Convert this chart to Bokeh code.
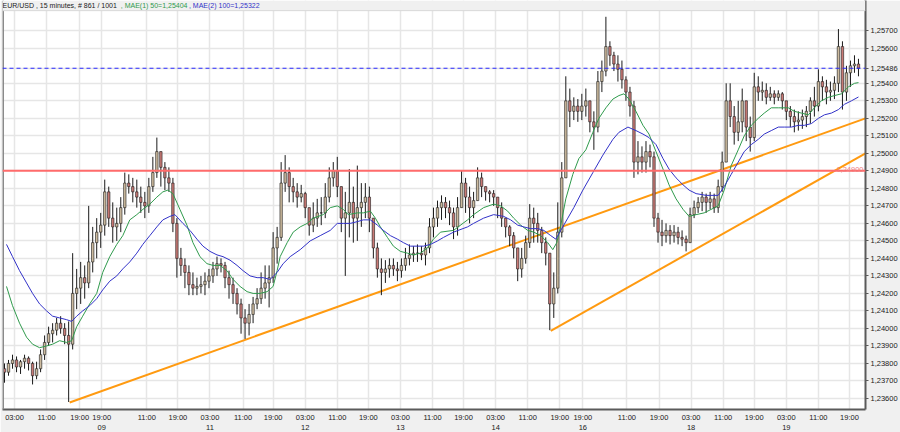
from bokeh.plotting import figure
from bokeh.models import (FixedTicker, CustomJSTickFormatter, Span, Label,
                          ColumnDataSource, Range1d, BoxAnnotation, LinearAxis)
from bokeh.embed import file_html
from bokeh.resources import INLINE

# ---------------- data ----------------
header_parts = ["EUR/USD , 15 minutes, # 861 / 1001",
                ", MAE(1) 50=1,25404",
                ", MAE(2) 100=1,25322"]

first_open = 1.2377
closes = [
    1.2375, 1.2380, 1.2382, 1.2378, 1.2381, 1.2383, 1.2380, 1.2373, 1.2377, 1.2385, 1.2392, 1.2397, 1.2399, 1.2403, 1.2400, 1.2396,
    1.2391, 1.2420, 1.2423, 1.2429, 1.2426, 1.2438, 1.2449, 1.2455, 1.2459, 1.2478, 1.2463, 1.2458, 1.2460, 1.2469, 1.2483,
    1.2481, 1.2478, 1.2475, 1.2472, 1.2470, 1.2481, 1.2489, 1.2501, 1.2492, 1.2486, 1.2483,
    1.2460, 1.2440, 1.2436, 1.2432, 1.2425, 1.2423, 1.2424, 1.2425, 1.2427, 1.2430, 1.2434, 1.2437, 1.2436,
    1.2429, 1.2425, 1.2420, 1.2414, 1.2406, 1.2403, 1.2408, 1.2414, 1.2417, 1.2423, 1.2426, 1.2429,
    1.2446, 1.2452, 1.2483, 1.2489, 1.2481, 1.2478, 1.2475, 1.2477, 1.2469, 1.2459, 1.2463, 1.2466, 1.2466,
    1.2475, 1.2486, 1.2490, 1.2481, 1.2463, 1.2466, 1.2472, 1.2463, 1.2469, 1.2472, 1.2475, 1.2463,
    1.2446, 1.2434, 1.2432, 1.2434, 1.2436, 1.2434, 1.2433, 1.2436, 1.2440, 1.2442, 1.2443, 1.2443, 1.2442, 1.2446,
    1.2458, 1.2463, 1.2469, 1.2472, 1.2469, 1.2466, 1.2458, 1.2469, 1.2483, 1.2475, 1.2469, 1.2473,
    1.2486, 1.2481, 1.2478, 1.2477, 1.2475, 1.2469, 1.2463, 1.2458, 1.2453, 1.2446, 1.2434, 1.2440, 1.2449,
    1.2463, 1.2460, 1.2456, 1.2449, 1.2443, 1.2414, 1.2423, 1.2455, 1.2486,
    1.2530, 1.2524, 1.2527, 1.2524, 1.2527, 1.2530, 1.2518, 1.2515, 1.2541, 1.2547,
    1.2561, 1.2556, 1.2551, 1.2548, 1.2542, 1.2535, 1.2527, 1.2495, 1.2498, 1.2495, 1.2501, 1.2498,
    1.2463, 1.2455, 1.2453, 1.2456, 1.2453, 1.2455, 1.2452, 1.2451, 1.2449,
    1.2465, 1.2469, 1.2472, 1.2475, 1.2472, 1.2474, 1.2469, 1.2481, 1.2495,
    1.2530, 1.2521, 1.2512, 1.2518, 1.2530, 1.2515, 1.2509, 1.2538,
    1.2535, 1.2536, 1.2532, 1.2534, 1.2532, 1.2534, 1.2530, 1.2524, 1.2521, 1.2518, 1.2519, 1.2521, 1.2524,
    1.2530, 1.2527, 1.2541, 1.2538, 1.2535, 1.2536, 1.2540, 1.2561, 1.2535, 1.2546, 1.2550, 1.2551, 1.25486]

highs = [
    1.2380, 1.2382, 1.2385, 1.2384, 1.2382, 1.2385, 1.2384, 1.2381, 1.2381, 1.2388, 1.2396, 1.2401, 1.2403, 1.2406, 1.2407, 1.2403,
    1.2404, 1.2443, 1.2434, 1.2438, 1.2436, 1.2470, 1.2458, 1.2463, 1.2466, 1.2485, 1.2481, 1.2472, 1.2469, 1.2475, 1.2489,
    1.2488, 1.2486, 1.2485, 1.2481, 1.2478, 1.2486, 1.2498, 1.2509, 1.2501, 1.2495, 1.2492,
    1.2486, 1.2463, 1.2446, 1.2440, 1.2436, 1.2432, 1.2429, 1.2430, 1.2432, 1.2434, 1.2438, 1.2441, 1.2440,
    1.2438, 1.2433, 1.2429, 1.2423, 1.2417, 1.2411, 1.2414, 1.2418, 1.2423, 1.2432, 1.2436, 1.2436,
    1.2455, 1.2458, 1.2495, 1.2499, 1.2492, 1.2486, 1.2483, 1.2482, 1.2478, 1.2469, 1.2472, 1.2474, 1.2475,
    1.2483, 1.2492, 1.2495, 1.2498, 1.2481, 1.2478, 1.2491, 1.2481, 1.2493, 1.2483, 1.2483, 1.2481,
    1.2458, 1.2449, 1.2440, 1.2439, 1.2440, 1.2440, 1.2438, 1.2440, 1.2446, 1.2448, 1.2447, 1.2448, 1.2447, 1.2449,
    1.2463, 1.2469, 1.2473, 1.2476, 1.2475, 1.2473, 1.2469, 1.2475, 1.2490, 1.2486, 1.2481, 1.2478,
    1.2492, 1.2489, 1.2481, 1.2479, 1.2479, 1.2475, 1.2472, 1.2463, 1.2459, 1.2455, 1.2443, 1.2446, 1.2453,
    1.2471, 1.2469, 1.2466, 1.2458, 1.2452, 1.2443, 1.2432, 1.2472, 1.2495,
    1.2544, 1.2537, 1.2532, 1.2531, 1.2534, 1.2537, 1.2530, 1.2524, 1.2547, 1.2553,
    1.2578, 1.2564, 1.2558, 1.2556, 1.2553, 1.2544, 1.2538, 1.2530, 1.2507, 1.2504, 1.2507, 1.2505,
    1.2501, 1.2466, 1.2462, 1.2460, 1.2459, 1.2459, 1.2458, 1.2456, 1.2453,
    1.2469, 1.2473, 1.2475, 1.2478, 1.2477, 1.2478, 1.2477, 1.2485, 1.2501,
    1.2540, 1.2540, 1.2527, 1.2530, 1.2537, 1.2530, 1.2521, 1.2546,
    1.2544, 1.2541, 1.2540, 1.2538, 1.2536, 1.2536, 1.2535, 1.2530, 1.2527, 1.2525, 1.2524, 1.2525, 1.2527,
    1.2532, 1.2538, 1.2548, 1.2544, 1.2542, 1.2541, 1.2544, 1.2571, 1.2564, 1.2550, 1.2553, 1.2556, 1.2554]

lows = [
    1.2369, 1.2373, 1.2377, 1.2375, 1.2374, 1.2377, 1.2376, 1.2368, 1.2371, 1.2375, 1.2382, 1.2390, 1.2392, 1.2396, 1.2397, 1.2391,
    1.2358, 1.2388, 1.2411, 1.2414, 1.2417, 1.2423, 1.2432, 1.2440, 1.2446, 1.2453, 1.2458, 1.2449, 1.2450, 1.2455, 1.2465,
    1.2477, 1.2472, 1.2469, 1.2466, 1.2463, 1.2466, 1.2478, 1.2486, 1.2481, 1.2479, 1.2478,
    1.2455, 1.2429, 1.2430, 1.2423, 1.2419, 1.2419, 1.2419, 1.2420, 1.2419, 1.2423, 1.2426, 1.2430, 1.2432,
    1.2423, 1.2417, 1.2414, 1.2408, 1.2397, 1.2394, 1.2396, 1.2403, 1.2411, 1.2414, 1.2417, 1.2412,
    1.2426, 1.2437, 1.2450, 1.2478, 1.2472, 1.2472, 1.2469, 1.2472, 1.2463, 1.2453, 1.2455, 1.2458, 1.2459,
    1.2463, 1.2472, 1.2481, 1.2475, 1.2455, 1.2430, 1.2452, 1.2449, 1.2450, 1.2458, 1.2463, 1.2455,
    1.2440, 1.2429, 1.2419, 1.2426, 1.2429, 1.2430, 1.2427, 1.2429, 1.2433, 1.2436, 1.2438, 1.2438, 1.2439, 1.2436,
    1.2443, 1.2452, 1.2458, 1.2462, 1.2463, 1.2459, 1.2451, 1.2453, 1.2472, 1.2466, 1.2460, 1.2463,
    1.2475, 1.2475, 1.2473, 1.2472, 1.2470, 1.2463, 1.2458, 1.2452, 1.2447, 1.2440, 1.2427, 1.2429, 1.2437,
    1.2446, 1.2449, 1.2449, 1.2443, 1.2436, 1.2399, 1.2406, 1.2420, 1.2452,
    1.2486, 1.2515, 1.2519, 1.2518, 1.2519, 1.2521, 1.2512, 1.2502, 1.2512, 1.2535,
    1.2544, 1.2550, 1.2547, 1.2541, 1.2537, 1.2530, 1.2521, 1.2486, 1.2488, 1.2489, 1.2489, 1.2492,
    1.2458, 1.2449, 1.2447, 1.2449, 1.2448, 1.2449, 1.2448, 1.2447, 1.2444,
    1.2449, 1.2463, 1.2466, 1.2467, 1.2466, 1.2468, 1.2466, 1.2466, 1.2478,
    1.2495, 1.2515, 1.2505, 1.2507, 1.2512, 1.2507, 1.2501, 1.2507,
    1.2530, 1.2530, 1.2528, 1.2530, 1.2528, 1.2530, 1.2525, 1.2519, 1.2515, 1.2512, 1.2513, 1.2514, 1.2515,
    1.2517, 1.2521, 1.2524, 1.2530, 1.2528, 1.2530, 1.2531, 1.2535, 1.2525, 1.2530, 1.2538, 1.2546, 1.2544]

# moving averages (bar index, value)
mae50_x = [4, 10, 17, 24, 30, 37, 44, 50, 57, 64, 69, 74, 80, 87, 94, 100, 107, 114, 120, 127,
           134, 140, 147, 154, 160, 165, 170, 177, 184, 190, 197, 204, 210, 217, 224, 230, 237, 244, 250, 257,
           264, 270, 274, 277, 284, 290, 297, 304, 310, 320, 327, 334, 340, 345, 354, 360, 367, 372, 377, 384,
           390, 397, 404, 410, 417, 424, 430, 437, 450, 464, 470, 480, 490, 497, 504, 510, 517, 524, 530, 537,
           544, 549, 553, 557, 562, 569, 575, 582, 589, 595, 602, 609, 615, 620, 625, 632, 639, 645, 652, 659,
           665, 672, 679, 685, 692, 700, 714, 720, 727, 734, 740, 747, 754, 760, 767, 774, 784, 790, 797, 804,
           810, 817, 824, 830, 837, 844, 850, 854]
mae50 = [1.2424, 1.2413, 1.2403, 1.2395, 1.2391, 1.2389, 1.2390, 1.2391, 1.2393, 1.2392,
         1.2393, 1.2401, 1.2407, 1.2414, 1.2420, 1.2432, 1.2441, 1.2448, 1.2453, 1.2462,
         1.2465, 1.2468, 1.2471, 1.2475, 1.2478, 1.2479, 1.2477, 1.2468, 1.2459, 1.2449,
         1.2441, 1.2437, 1.2436, 1.2436, 1.2433, 1.2428, 1.2424, 1.2421, 1.2420, 1.2420,
         1.2421, 1.2424, 1.2433, 1.2441, 1.2449, 1.2455, 1.2458, 1.2460, 1.2463, 1.2465,
         1.2469, 1.2470, 1.2468, 1.2465, 1.2466, 1.2466, 1.2467, 1.2463, 1.2458, 1.2452,
         1.2447, 1.2444, 1.2443, 1.2442, 1.2443, 1.2446, 1.2451, 1.2455, 1.2456, 1.2462,
         1.2465, 1.2469, 1.2471, 1.2470, 1.2467, 1.2463, 1.2459, 1.2456, 1.2455, 1.2453,
         1.2449, 1.2445, 1.2449, 1.2459, 1.2474, 1.2488, 1.2497, 1.2502, 1.2512, 1.2520,
         1.2526, 1.2531, 1.2533, 1.2534, 1.2531, 1.2524, 1.2516, 1.2511, 1.2501, 1.2491,
         1.2482, 1.2474, 1.2468, 1.2464, 1.2465, 1.2466, 1.2470, 1.2479, 1.2493, 1.2502,
         1.2510, 1.2516, 1.2520, 1.2523, 1.2526, 1.2526, 1.2526, 1.2524, 1.2523, 1.2522,
         1.2526, 1.2530, 1.2532, 1.2533, 1.2534, 1.2538, 1.2540, 1.25404]

mae100_x = [4, 10, 17, 24, 30, 37, 44, 50, 57, 64, 69, 74, 80, 87, 94, 100, 107, 114, 120, 127,
            134, 140, 147, 154, 160, 167, 172, 180, 187, 194, 200, 207, 214, 220, 227, 234, 240, 247, 254, 260,
            267, 274, 280, 287, 297, 307, 317, 327, 334, 340, 347, 354, 360, 367, 374, 380, 387, 394, 400, 407,
            414, 420, 427, 434, 440, 450, 464, 470, 480, 490, 500, 507, 514, 520, 527, 534, 540, 547, 552, 557,
            564, 570, 579, 589, 599, 609, 615, 624, 632, 639, 645, 652, 659, 665, 672, 679, 685, 692, 702, 714,
            720, 727, 734, 740, 747, 754, 760, 767, 774, 780, 787, 794, 800, 807, 814, 820, 827, 834, 840, 847,
            854]
mae100 = [1.2448, 1.2441, 1.2433, 1.2426, 1.2420, 1.2414, 1.2410, 1.2407, 1.2406, 1.2405,
          1.2404, 1.2407, 1.2410, 1.2413, 1.2417, 1.2422, 1.2427, 1.2430, 1.2434, 1.2438,
          1.2443, 1.2448, 1.2453, 1.2458, 1.2462, 1.2464, 1.2465, 1.2460, 1.2456, 1.2451,
          1.2447, 1.2444, 1.2442, 1.2441, 1.2439, 1.2436, 1.2433, 1.2430, 1.2429, 1.2429,
          1.2428, 1.2432, 1.2437, 1.2441, 1.2445, 1.2450, 1.2453, 1.2456, 1.2460, 1.2460,
          1.2460, 1.2461, 1.2462, 1.2462, 1.2459, 1.2456, 1.2453, 1.2451, 1.2449, 1.2447,
          1.2447, 1.2447, 1.2448, 1.2450, 1.2452, 1.2455, 1.2458, 1.2460, 1.2463, 1.2465,
          1.2464, 1.2462, 1.2459, 1.2458, 1.2457, 1.2457, 1.2456, 1.2453, 1.2451, 1.2456,
          1.2463, 1.2469, 1.2479, 1.2489, 1.2499, 1.2508, 1.2512, 1.2515, 1.2513, 1.2511,
          1.2509, 1.2505, 1.2497, 1.2491, 1.2486, 1.2482, 1.2479, 1.2477, 1.2476, 1.2476,
          1.2481, 1.2488, 1.2495, 1.2501, 1.2505, 1.2508, 1.2511, 1.2513, 1.2515, 1.2515,
          1.2515, 1.2516, 1.2516, 1.2517, 1.2520, 1.2522, 1.2523, 1.2525, 1.2528, 1.2530,
          1.25322]

# trend lines: (start bar, start price, end bar, end price)
trend1 = (67, 1.23577, 861, 1.2520)
trend2 = (547, 1.23986, 861, 1.2500)

level_red = 1.2490
level_last = 1.25486

time_tick_pos = [12, 44, 77, 99, 144, 175, 207, 240, 270, 302, 334, 365, 397, 429,
                 460, 492, 524, 556, 579, 623, 655, 687, 719, 750, 782, 814, 845]
time_tick_labels = ["03:00", "11:00", "19:00", "19:00", "11:00", "19:00", "03:00",
                    "11:00", "19:00", "03:00", "11:00", "19:00", "03:00", "11:00",
                    "19:00", "03:00", "11:00", "19:00", "19:00", "11:00", "19:00",
                    "03:00", "11:00", "19:00", "03:00", "11:00", "19:00"]
day_tick_pos = [99, 207, 302, 397, 492, 579, 687, 782]
day_tick_labels = ["09", "11", "12", "13", "14", "16", "18", "19"]
y_ticks = [1.236, 1.237, 1.238, 1.239, 1.240, 1.241, 1.242, 1.243, 1.244, 1.245, 1.246,
           1.247, 1.248, 1.249, 1.250, 1.251, 1.252, 1.253, 1.254, 1.25486, 1.256, 1.257]

# visible price window of the chart area, and the header strip above it
price_lo, price_hi = 1.23537, 1.25815
header_band = 0.00058

# ---------------- derived candle table ----------------
n = len(closes)
bar_x = [2 + 4 * i for i in range(n)]
opens = [first_open] + closes[:-1]
top = [max(o, c) for o, c in zip(opens, closes)]
bot = [min(o, c) for o, c in zip(opens, closes)]
hi = [max(h, t) for h, t in zip(highs, top)]
lo = [min(l, b) for l, b in zip(lows, bot)]
colors = ["#cdbb9f" if c >= o else "#c97a76" for o, c in zip(opens, closes)]
src = ColumnDataSource(dict(x=bar_x, top=top, bot=bot, hi=hi, lo=lo, color=colors))

FONT = "Liberation Sans"
BG = "#f0f0f0"

p = figure(width=900, height=432, output_backend="svg", toolbar_location=None,
           x_range=Range1d(0, 861), y_range=Range1d(price_lo, price_hi + header_band),
           y_axis_location="right", min_border_left=2, min_border_right=0,
           min_border_top=0, min_border_bottom=0,
           background_fill_color="white", border_fill_color=BG,
           outline_line_color=None)

lookup = "const i = pos.indexOf(tick); return i >= 0 ? labs[i] : '';"
time_axis = p.xaxis[0]
time_axis.ticker = FixedTicker(ticks=time_tick_pos)
time_axis.formatter = CustomJSTickFormatter(args=dict(pos=time_tick_pos, labs=time_tick_labels),
                                            code=lookup)
day_axis = LinearAxis(ticker=FixedTicker(ticks=day_tick_pos),
                      formatter=CustomJSTickFormatter(args=dict(pos=day_tick_pos, labs=day_tick_labels),
                                                      code=lookup))
p.add_layout(day_axis, "below")

price_axis = p.yaxis[0]
price_axis.ticker = FixedTicker(ticks=y_ticks)
price_axis.formatter = CustomJSTickFormatter(code="return tick.toFixed(5).replace('.', ',');")

for ax in (time_axis, day_axis, price_axis):
    ax.axis_line_color = "#5a5a5a"
    ax.axis_line_width = 2
    ax.minor_tick_line_color = None
    ax.major_label_text_font = FONT
    ax.major_label_text_font_size = "7.5px"
    ax.major_label_text_color = "#202020"
time_axis.major_tick_line_color = None
time_axis.major_tick_out = 0
time_axis.major_label_standoff = 3
day_axis.axis_line_color = None
day_axis.major_tick_line_color = None
day_axis.major_tick_out = 0
day_axis.major_label_standoff = 0
price_axis.major_tick_out = 3
price_axis.major_tick_in = 0
price_axis.major_tick_line_color = "#5a5a5a"
price_axis.major_label_standoff = 2

p.xgrid.grid_line_color = "#e6e6e6"
p.xgrid.grid_line_width = 1.5
p.ygrid.grid_line_color = "#e6e6e6"
p.ygrid.grid_line_width = 1.5

# left border of the chart area
p.add_layout(Span(location=0, dimension="height", line_color="#8a8a8a", line_width=3))

# trend lines
p.line([trend1[0], trend1[2]], [trend1[1], trend1[3]], line_color="#ff9a10", line_width=2)
p.line([trend2[0], trend2[2]], [trend2[1], trend2[3]], line_color="#ff9a10", line_width=2)

# horizontal levels
p.add_layout(Span(location=level_red, dimension="width", line_color="#ff6b6b", line_width=2))
p.add_layout(Span(location=level_last, dimension="width", line_color="#2a2aff",
                  line_width=1, line_dash="4 3"))

# candles
p.segment(x0="x", y0="lo", x1="x", y1="hi", source=src, line_color="#1a1a1a", line_width=1)
p.vbar(x="x", width=2.4, top="top", bottom="bot", source=src,
       fill_color="color", line_color="#1a1a1a", line_width=0.6)

# moving averages
p.line(mae50_x, mae50, line_color="#2f9a4c", line_width=1)
p.line(mae100_x, mae100, line_color="#3232c8", line_width=1)

# header strip above the chart area (grey, like the window background)
p.add_layout(BoxAnnotation(bottom=price_hi, fill_color=BG, fill_alpha=1.0,
                           line_color=None, level="overlay"))
p.add_layout(Span(location=price_hi, dimension="width", line_color="#d8d8d8",
                  line_width=1, level="overlay"))

# labels
p.add_layout(Label(x=861, y=level_red, text="1,24900", text_align="right",
                   text_baseline="middle", x_offset=-2, y_offset=1, text_color="#f08080",
                   text_font=FONT, text_font_size="7.5px"))

hdr_colors = ["#202020", "#2f9a4c", "#3232c8"]
hdr_x = [0, 118, 186]
for txt, col, hx in zip(header_parts, hdr_colors, hdr_x):
    p.add_layout(Label(x=hx, y=price_hi, text=txt, text_align="left", text_baseline="bottom",
                       x_offset=0, y_offset=2, text_color=col, text_font=FONT,
                       text_font_size="7px", level="overlay"))

open("out.html", "w").write(file_html(p, INLINE))
